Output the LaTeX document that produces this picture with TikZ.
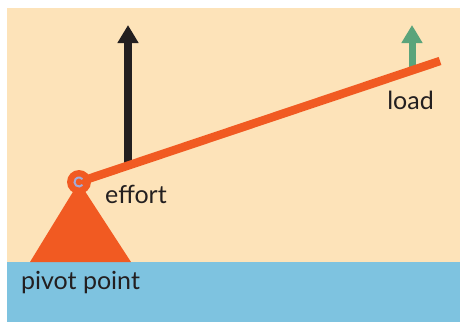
\documentclass[tikz,border=0pt]{standalone}
\usepackage{fontspec}
\setmainfont{Lato}
\usetikzlibrary{arrows.meta}
\definecolor{sand}{HTML}{FDE3B9}
\definecolor{sea}{HTML}{7EC3E0}
\definecolor{rust}{HTML}{F15A22}
\definecolor{leaf}{HTML}{5AA47B}
\definecolor{ink}{HTML}{231F20}
\definecolor{hinge}{HTML}{A3ABD9}

\begin{document}
\begin{tikzpicture}[x=1pt, y=-1pt,
  lbl/.style={font=\fontsize{25}{27}\selectfont, text=ink, inner sep=0pt, anchor=base},
  force/.style={line width=8pt, -{Triangle[length=18pt, width=20pt]}}]
  \useasboundingbox (0,0) rectangle (460,322);
  % ground and sky
  \fill[sand] (7,8) rectangle (460,262);
  \fill[sea] (7,262) rectangle (460,322);
  \coordinate (pivot) at (79,182);
  \coordinate (end) at (440,61);
  \coordinate (push) at (128,165);
  \coordinate (lift) at (412,71);
  % forces
  \draw[force, ink] (push) -- (128,25);
  \draw[force, leaf, line width=7pt] (lift) -- (412,25);
  % fulcrum and lever
  \fill[rust] (pivot) -- (30,262) -- (131,262) -- cycle;
  \draw[rust, line width=8.5pt] (pivot) -- (end);
  \fill[rust] (pivot) circle (12);
  \draw[hinge, line width=2pt] ([shift={(40:4.5)}]pivot) arc[start angle=40, end angle=320, radius=4.5];
  \node[lbl] (effort) at (136,203) {effort};
  \node[lbl] (load) at (410.5,109) {load};
  \node[lbl] (fulcrum) at (80.5,289) {pivot point};
\end{tikzpicture}
\end{document}
